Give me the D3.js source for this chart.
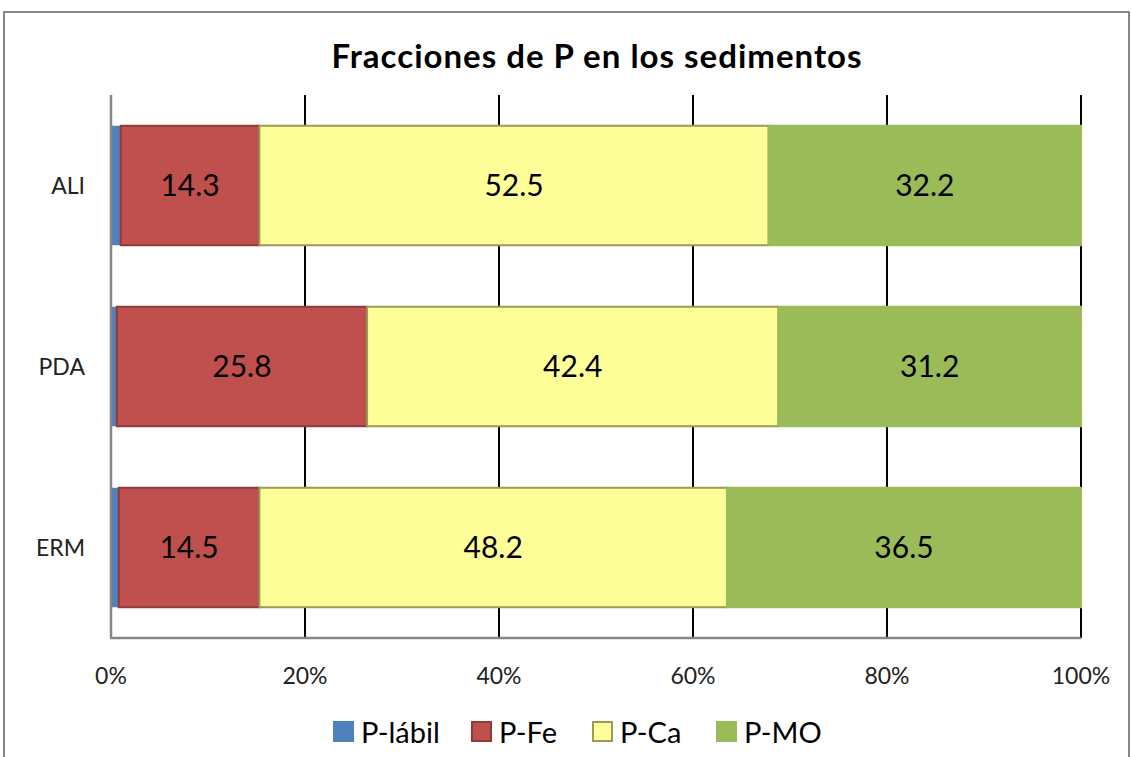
<!DOCTYPE html>
<html>
<head>
<meta charset="utf-8">
<script src="https://cdn.jsdelivr.net/npm/d3@7"></script>
<style>
  body { margin: 0; background: #fff; }
  svg { font-family: Lato, "Open Sans", sans-serif; }
</style>
</head>
<body>
<svg id="chart" width="1131" height="757"></svg>
<script>
// data
var categories = ["ALI", "PDA", "ERM"];
var seriesNames = ["P-lábil", "P-Fe", "P-Ca", "P-MO"];
var pLabil = [1.0, 0.6, 0.8];
var pFe = [14.3, 25.8, 14.5];
var pCa = [52.5, 42.4, 48.2];
var pMO = [32.2, 31.2, 36.5];
var tickValues = [0, 0.2, 0.4, 0.6, 0.8, 1];

var fills = ["#4F81BD", "#C0504D", "#FFFF99", "#9BBB59"];
var strokes = ["#4F81BD", "#8E3B39", "#9D9A55", "#9BBB59"];

var rows = categories.map(function(c, i) {
  return {cat: c, "P-lábil": pLabil[i], "P-Fe": pFe[i], "P-Ca": pCa[i], "P-MO": pMO[i]};
});

var stack = d3.stack().keys(seriesNames).offset(d3.stackOffsetExpand);
var layers = stack(rows);

var svg = d3.select("#chart");

// outer frame
svg.append("rect")
  .attr("x", 4).attr("y", 12).attr("width", 1125).attr("height", 800)
  .attr("fill", "none").attr("stroke", "#868686").attr("stroke-width", 2);

var plotLeft = 111, plotRight = 1081, plotTop = 95, plotBottom = 638;

var x = d3.scaleLinear().domain([0, 1]).range([plotLeft, plotRight]);
var y = d3.scaleBand().domain(categories).range([plotTop, plotBottom]).paddingInner(0.34).paddingOuter(0.17);

// title
svg.append("text")
  .attr("x", 597).attr("y", 68)
  .attr("text-anchor", "middle")
  .attr("font-size", 33).attr("font-weight", "bold")
  .attr("letter-spacing", 1)
  .text("Fracciones de P en los sedimentos");

// gridlines
svg.append("g")
  .selectAll("line")
  .data(tickValues.slice(1))
  .enter().append("line")
  .attr("x1", function(d) { return x(d); })
  .attr("x2", function(d) { return x(d); })
  .attr("y1", plotTop).attr("y2", plotBottom)
  .attr("stroke", "#000").attr("stroke-width", 2);

// bars
var g = svg.append("g");
layers.forEach(function(layer, si) {
  g.append("g")
    .selectAll("rect")
    .data(layer)
    .enter().append("rect")
    .attr("x", function(d) { return x(d[0]); })
    .attr("y", function(d) { return y(d.data.cat); })
    .attr("width", function(d) { return x(d[1]) - x(d[0]); })
    .attr("height", y.bandwidth())
    .attr("fill", fills[si])
    .attr("stroke", si === 0 ? "none" : strokes[si])
    .attr("stroke-width", 2);
});

// data labels (not for P-lábil)
layers.forEach(function(layer, si) {
  if (si === 0) return;
  g.append("g")
    .selectAll("text")
    .data(layer)
    .enter().append("text")
    .attr("x", function(d) { return (x(d[0]) + x(d[1])) / 2; })
    .attr("y", function(d) { return y(d.data.cat) + y.bandwidth() / 2; })
    .attr("dy", "0.36em")
    .attr("text-anchor", "middle")
    .attr("font-size", 30)
    .attr("fill", "#000")
    .text(function(d) { return d.data[seriesNames[si]].toFixed(1); });
});

// axes lines
svg.append("line")
  .attr("x1", plotLeft).attr("x2", plotLeft).attr("y1", plotTop).attr("y2", plotBottom)
  .attr("stroke", "#868686").attr("stroke-width", 2.5);
svg.append("line")
  .attr("x1", plotLeft - 1).attr("x2", plotRight).attr("y1", plotBottom).attr("y2", plotBottom)
  .attr("stroke", "#868686").attr("stroke-width", 2.5);

// x tick labels
svg.append("g")
  .selectAll("text")
  .data(tickValues)
  .enter().append("text")
  .attr("x", function(d) { return x(d); })
  .attr("y", 684)
  .attr("text-anchor", "middle")
  .attr("font-size", 23)
  .attr("fill", "#222")
  .text(d3.format(".0%"));

// category labels
svg.append("g")
  .selectAll("text")
  .data(categories)
  .enter().append("text")
  .attr("x", 85)
  .attr("y", function(d) { return y(d) + y.bandwidth() / 2; })
  .attr("dy", "0.36em")
  .attr("text-anchor", "end")
  .attr("font-size", 23)
  .attr("fill", "#222")
  .text(function(d) { return d; });

// legend
var legendX = [333, 471, 592, 716];
var legend = svg.append("g");
seriesNames.forEach(function(name, i) {
  legend.append("rect")
    .attr("x", legendX[i] + 1).attr("y", 722)
    .attr("width", 19).attr("height", 19)
    .attr("fill", fills[i])
    .attr("stroke", strokes[i]).attr("stroke-width", 2);
  legend.append("text")
    .attr("x", legendX[i] + 28).attr("y", 743)
    .attr("font-size", 29)
    .attr("fill", "#000")
    .text(name);
});
</script>
</body>
</html>
